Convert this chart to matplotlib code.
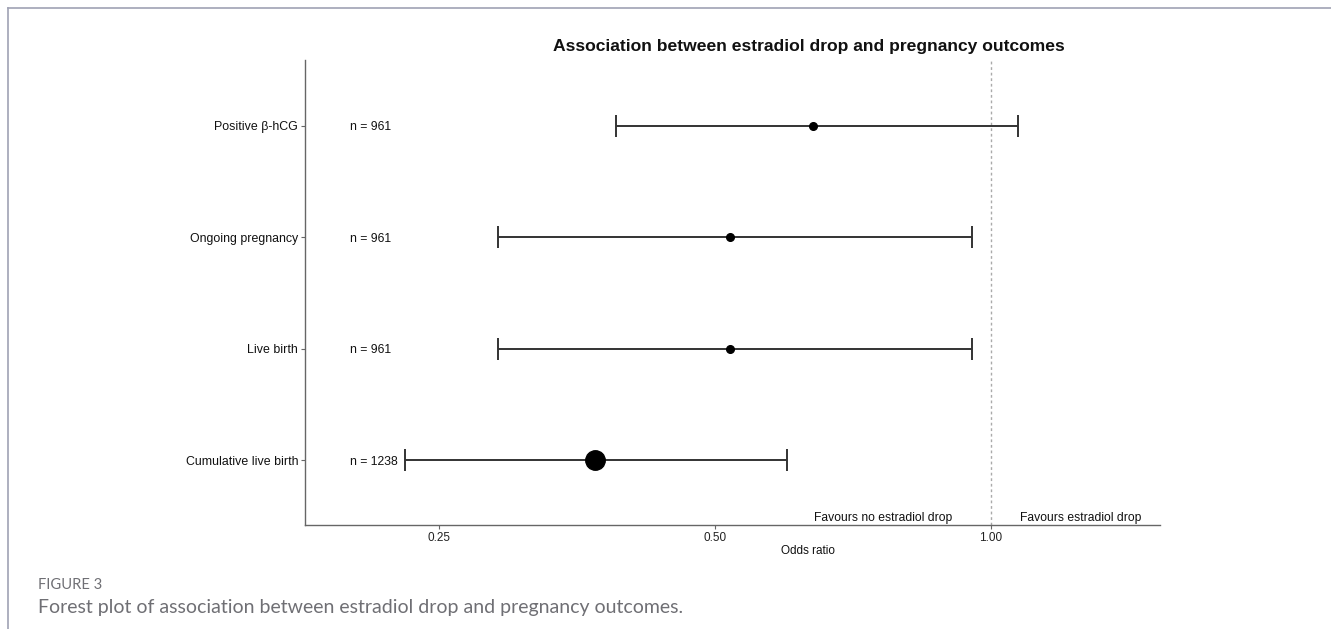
import matplotlib
matplotlib.use("Agg")
import matplotlib.pyplot as plt
import numpy as np
from matplotlib.lines import Line2D

# Data
outcomes = ["Positive β-hCG", "Ongoing pregnancy", "Live birth", "Cumulative live birth"]
n_labels = ["n = 961", "n = 961", "n = 961", "n = 1238"]
odds_ratio = [0.64, 0.52, 0.52, 0.37]
ci_low = [0.39, 0.29, 0.29, 0.23]
ci_high = [1.07, 0.953, 0.953, 0.60]
xticks = [0.25, 0.50, 1.00]
xtick_labels = ["0.25", "0.50", "1.00"]

# Style
marker_sizes = [5.5, 5.5, 5.5, 14]
line_col = "#333333"
axis_col = "#666666"

plt.rcParams['font.family'] = ['Liberation Sans', 'DejaVu Sans']

fig = plt.figure(figsize=(13.31, 6.29), dpi=100)
ax = fig.add_axes([305/1331, 1-525/629, (1160-305)/1331, (525-60)/629])

ypos = np.arange(len(outcomes), 0, -1)

ax.set_xscale('log', base=2)
ax.set_xlim(0.1788, 1.5287)
ax.set_ylim(0.417, 4.59)

ax.axvline(1.0, color="#aaaaaa", linestyle=(0, (2, 2)), linewidth=1.0, zorder=1)

for y, o, lo, hi, ms, nl in zip(ypos, odds_ratio, ci_low, ci_high, marker_sizes, n_labels):
    ax.errorbar([o], [y], xerr=[[o - lo], [hi - o]], fmt='o', color='black',
                ecolor=line_col, elinewidth=1.4, capsize=8, capthick=1.4,
                markersize=ms, zorder=3)
    ax.text(0.2, y, nl, ha='left', va='center_baseline', fontsize=8.8, color='#111111')

ax.text(0.907, 0.49, "Favours no estradiol drop", ha='right', va='center_baseline', fontsize=8.7, color='#111111')
ax.text(1.075, 0.49, "Favours estradiol drop", ha='left', va='center_baseline', fontsize=8.7, color='#111111')

ax.set_yticks(ypos)
ax.set_yticklabels(outcomes, fontsize=8.9, color='#111111')
ax.set_xticks(xticks)
ax.set_xticklabels(xtick_labels, fontsize=8.5, color='#222222')
ax.xaxis.set_minor_locator(matplotlib.ticker.NullLocator())
ax.tick_params(axis='both', length=3, width=0.8, color=axis_col, pad=2)

for s in ['top', 'right']:
    ax.spines[s].set_visible(False)
for s in ['left', 'bottom']:
    ax.spines[s].set_color(axis_col)
    ax.spines[s].set_linewidth(1.0)

fig.text(809/1331, 1-46/629, "Association between estradiol drop and pregnancy outcomes",
         ha='center', va='center', fontsize=12.6, fontweight='bold', color='#111111')
fig.text(808/1331, 1-551/629, "Odds ratio", ha='center', va='center', fontsize=8.5, color='#111111')

# Caption
fig.text(38/1331, 1-585/629, "FIGURE 3", ha='left', va='center', fontsize=10.6,
         color='#6f6f74', family=['Lato', 'DejaVu Sans'])
fig.text(38/1331, 1-608/629, "Forest plot of association between estradiol drop and pregnancy outcomes.",
         ha='left', va='center', fontsize=14.0, color='#6f6f74',
         family=['Lato', 'DejaVu Sans'])

# Page frame lines
border_col = "#a0a2b4"
fig.add_artist(Line2D([8/1331, 1], [1-8/629, 1-8/629], color=border_col, linewidth=1.2, transform=fig.transFigure))
fig.add_artist(Line2D([8/1331, 8/1331], [0, 1-8/629], color=border_col, linewidth=1.2, transform=fig.transFigure))

fig.savefig("out.png", dpi=100)
